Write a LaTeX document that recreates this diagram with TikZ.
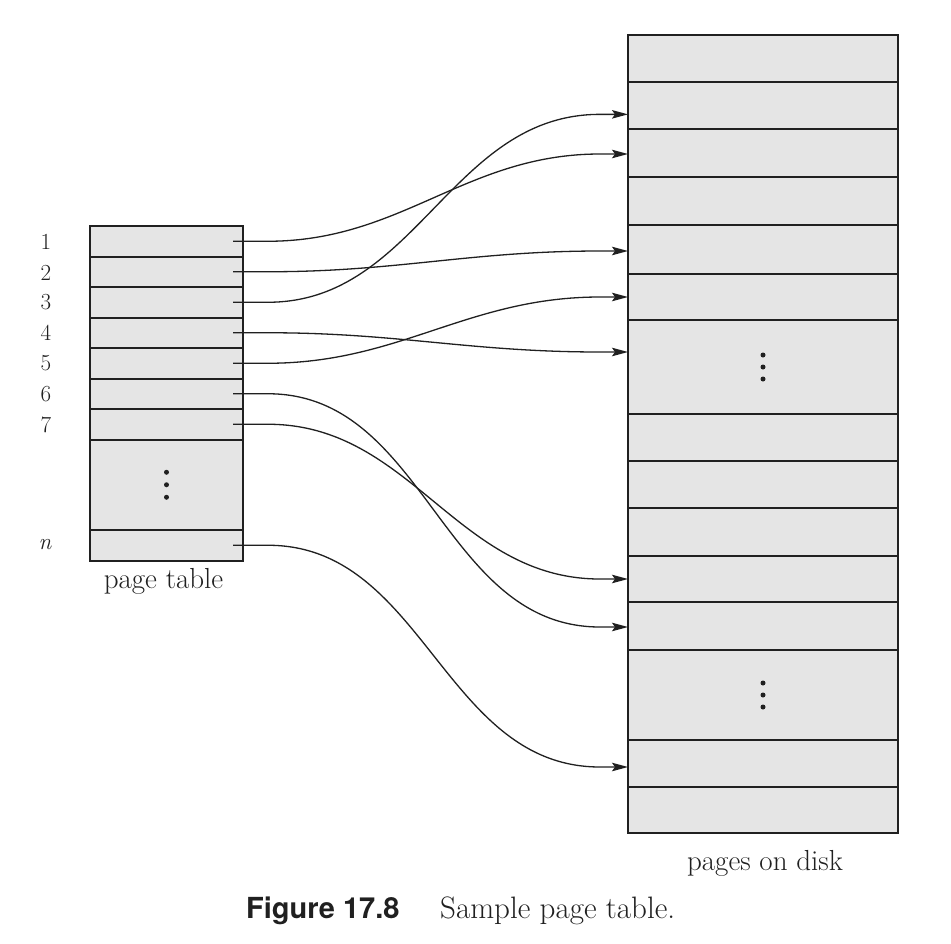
\documentclass[tikz,border=0pt]{standalone}
\usepackage{fontspec}
\newfontfamily\capsans{TeX Gyre Heros}
\usetikzlibrary{arrows.meta}
\definecolor{cellfill}{RGB}{229,229,229}
\definecolor{ink}{RGB}{32,32,32}
\begin{document}
\begin{tikzpicture}[x=1pt,y=-1pt,
  ptcell/.style={draw=ink, line width=2pt, fill=cellfill, minimum width=153pt,
    inner sep=0pt, outer sep=0pt},
  dkcell/.style={draw=ink, line width=2pt, fill=cellfill, minimum width=270pt,
    inner sep=0pt, outer sep=0pt},
  numlab/.style={font=\fontsize{23}{27}\selectfont, text=ink, inner sep=0pt},
  lbl/.style={font=\fontsize{29}{34}\selectfont, text=ink, inner sep=0pt},
  conn/.style={draw=ink, line width=1.3pt,
    -{Stealth[length=16pt,width=8.5pt,inset=3pt]}},
  vdot/.style={fill=ink, draw=none, circle, minimum size=5pt, inner sep=0pt}]
\useasboundingbox (0,0) rectangle (951,943);
\fill[white] (0,0) rectangle (951,943);

% ---- page table ----
\node[ptcell, minimum height=30.5pt] (p1) at (166.5,241.25) {};
\node[ptcell, minimum height=30.5pt] (p2) at (166.5,271.75) {};
\node[ptcell, minimum height=30.5pt] (p3) at (166.5,302.25) {};
\node[ptcell, minimum height=30.5pt] (p4) at (166.5,332.75) {};
\node[ptcell, minimum height=30.5pt] (p5) at (166.5,363.25) {};
\node[ptcell, minimum height=30.5pt] (p6) at (166.5,393.75) {};
\node[ptcell, minimum height=30.5pt] (p7) at (166.5,424.25) {};
\node[ptcell, minimum height=90.5pt] (pdots) at (166.5,484.75) {};
\node[ptcell, minimum height=30.5pt] (pn) at (166.5,545.25) {};
\foreach \k in {-1,0,1}
  \node[vdot] at ([yshift=-12.5*\k pt]pdots.center) {};

\node[numlab] (l1) at (46,242) {1};
\node[numlab] (l2) at (46,272.5) {2};
\node[numlab] (l3) at (46,302.5) {3};
\node[numlab] (l4) at (46,333) {4};
\node[numlab] (l5) at (46,363.5) {5};
\node[numlab] (l6) at (46,394) {6};
\node[numlab] (l7) at (46,424.5) {7};
\node[numlab] (ln) at (45,545) {\itshape n};
\node[lbl, anchor=base] (ptlabel) at (163.5,588) {page table};

% ---- pages on disk ----
\node[dkcell, minimum height=46.7pt] (d1)  at (763,58.35) {};
\node[dkcell, minimum height=47.3pt] (d2)  at (763,105.35) {};
\node[dkcell, minimum height=48pt]   (d3)  at (763,153) {};
\node[dkcell, minimum height=48pt]   (d4)  at (763,201) {};
\node[dkcell, minimum height=49pt]   (d5)  at (763,249.5) {};
\node[dkcell, minimum height=46pt]   (d6)  at (763,297) {};
\node[dkcell, minimum height=94pt]   (dA)  at (763,367) {};
\node[dkcell, minimum height=47pt]   (d7)  at (763,437.5) {};
\node[dkcell, minimum height=47pt]   (d8)  at (763,484.5) {};
\node[dkcell, minimum height=48pt]   (d9)  at (763,532) {};
\node[dkcell, minimum height=46pt]   (d10) at (763,579) {};
\node[dkcell, minimum height=48pt]   (d11) at (763,626) {};
\node[dkcell, minimum height=90pt]   (dB)  at (763,695) {};
\node[dkcell, minimum height=47pt]   (d12) at (763,763.5) {};
\node[dkcell, minimum height=46pt]   (d13) at (763,810) {};
\draw[ink, line width=2.8pt] (d4.south west) -- (d4.south east);
\foreach \k in {-1,0,1} {
  \node[vdot] at ([yshift=-12*\k pt]dA.center) {};
  \node[vdot] at ([yshift=-12*\k pt]dB.center) {};
}
\node[lbl, anchor=base] (dklabel) at (765,870) {pages on disk};

% ---- caption ----
\node[font=\capsans\bfseries\fontsize{29}{33}\selectfont, text=ink, anchor=base west,
  inner sep=0pt] (capnum) at (246,918) {Figure 17.8};
\node[font=\fontsize{31}{36}\selectfont, text=ink, anchor=base west,
  inner sep=0pt] (captext) at (440,918) {Sample page table.};

% ---- mapping arrows ----
\coordinate (kL) at (268,0);
\coordinate (kR) at (600,0);
\foreach \src/\dst/\dy in {p1/d3/1, p2/d5/1.5, p3/d2/9, p4/dA/-15, p5/d6/0,
                           p6/d11/1, p7/d10/0, pn/d12/3.5} {
  \coordinate (s) at ([xshift=-10pt]\src.east);
  \coordinate (t) at ([yshift=-\dy pt]\dst.west);
  \draw[conn] (s) -- (s -| kL) to[out=0,in=180] (t -| kR) -- (t);
}
\end{tikzpicture}
\end{document}
